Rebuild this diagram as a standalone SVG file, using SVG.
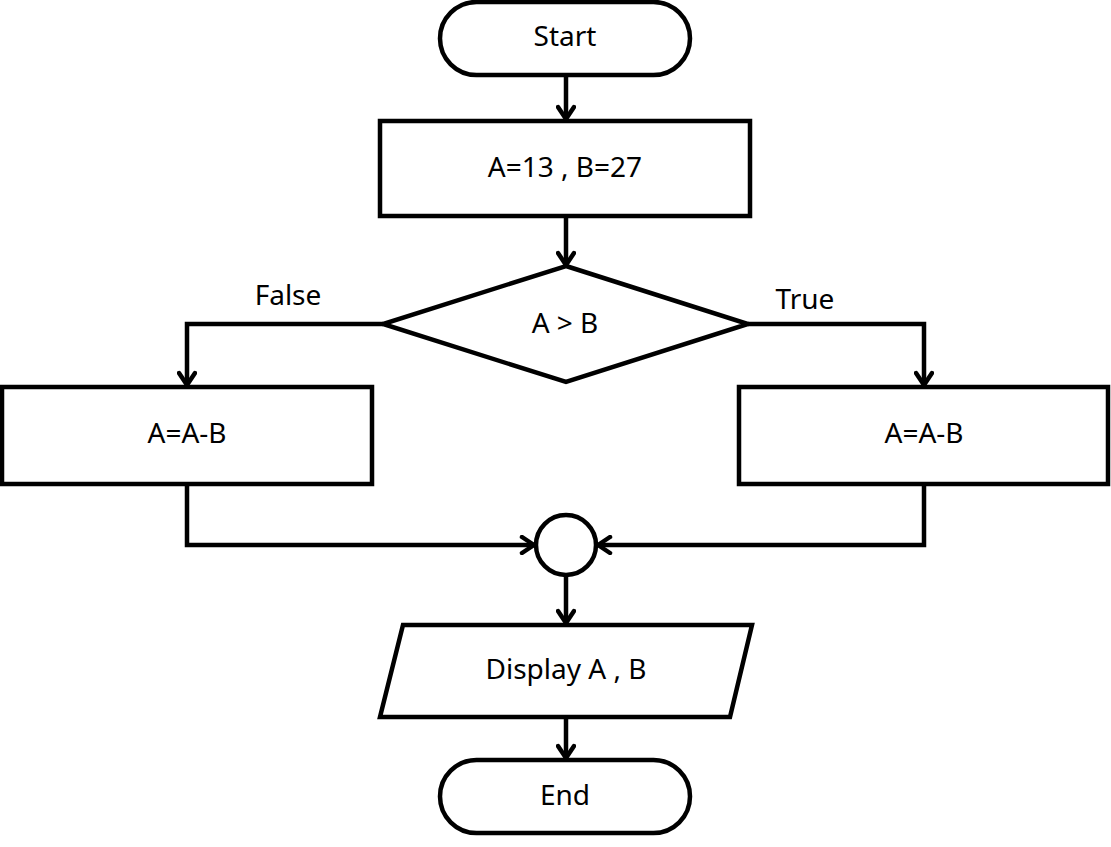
<svg xmlns="http://www.w3.org/2000/svg" width="1111" height="847" viewBox="0 0 1111 847">
<defs>
<style>
.s{fill:#fff;stroke:#000;stroke-width:4.5}
.c{fill:none;stroke:#000;stroke-width:4.5}
.t{font-family:"Noto Sans","Open Sans",sans-serif;font-size:28px;fill:#000;text-anchor:middle}
</style>
<marker id="a" viewBox="0 0 20 20" refX="18" refY="10" markerWidth="20" markerHeight="20" markerUnits="userSpaceOnUse" orient="auto">
<path d="M6,2 L18,10 L6,18" fill="none" stroke="#000" stroke-width="4.5" stroke-linecap="round" stroke-linejoin="round"/>
</marker>
</defs>
<rect width="1111" height="847" fill="#fff"/>
<g id="connectors">
<path class="c" d="M566,75 V119" marker-end="url(#a)"/>
<path class="c" d="M566,216 V265" marker-end="url(#a)"/>
<path class="c" d="M383,324 H187 V385" marker-end="url(#a)"/>
<path class="c" d="M748,324 H924 V385" marker-end="url(#a)"/>
<path class="c" d="M187,484 V545 H534" marker-end="url(#a)"/>
<path class="c" d="M924,484 V545 H598" marker-end="url(#a)"/>
<path class="c" d="M566,576 V623" marker-end="url(#a)"/>
<path class="c" d="M566,717 V758" marker-end="url(#a)"/>
<text class="t" x="288" y="305">False</text>
<text class="t" x="805" y="309">True</text>
</g>
<g id="start"><rect class="s" x="440" y="2" width="250" height="73" rx="36.5"/><text class="t" x="565" y="46">Start</text></g>
<g id="init"><rect class="s" x="380" y="121" width="370" height="95"/><text class="t" x="565" y="177">A=13 , B=27</text></g>
<g id="decision"><polygon class="s" points="566,266 748,324 566,382 383,324"/><text class="t" x="565" y="333">A &gt; B</text></g>
<g id="left"><rect class="s" x="2" y="387" width="370" height="97"/><text class="t" x="187" y="443">A=A-B</text></g>
<g id="right"><rect class="s" x="739" y="387" width="369" height="97"/><text class="t" x="924" y="443">A=A-B</text></g>
<g id="merge"><circle class="s" cx="566" cy="545" r="30"/></g>
<g id="display"><polygon class="s" points="403,625 752,625 730,717 380,717"/><text class="t" x="566" y="679">Display A , B</text></g>
<g id="end"><rect class="s" x="440" y="760" width="250" height="73" rx="36.5"/><text class="t" x="565" y="805">End</text></g>
</svg>
